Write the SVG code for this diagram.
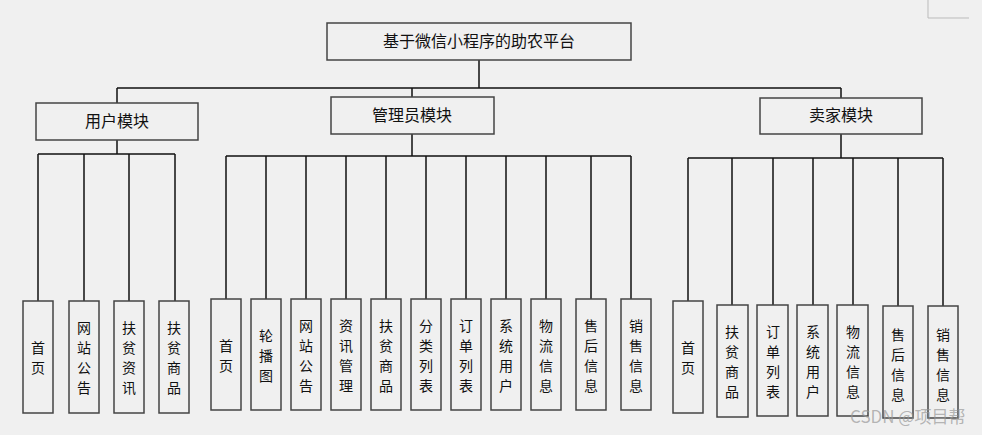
<svg xmlns="http://www.w3.org/2000/svg" width="982" height="435" viewBox="0 0 982 435">
<style>
.b{fill:#f0f0f0;stroke:#444;stroke-width:1.5}
.t{font-family:"Noto Sans CJK SC","Liberation Sans",sans-serif;font-size:14px;fill:#111;text-anchor:middle}
.h{font-size:16px}
.c{stroke:#111;stroke-width:1.5;fill:none}
</style>
<rect width="982" height="435" fill="#f0f0f0"/>
<path d="M928 0V18H969" stroke="#bbb" fill="none"/>
<g id="connectors" class="c">
<path d="M479 60V88M117 88H841M117 88V103M412 88V97M841 88V98"/>
<path d="M117 140V154M38 154H175M38 154V301M84 154V301M129 154V301M175 154V301"/>
<path d="M412 134V156M226 156H631M226 156V299M266 156V299M306 156V299M346 156V299M386 156V299M426 156V299M466 156V299M506 156V299M546 156V299M591 156V299M631 156V299"/>
<path d="M841 134V158M688 158H943M688 158V301M732 158V305M773 158V305M813 158V305M853 158V305M898 158V306M943 158V306"/>
</g>
<g id="root"><rect class="b" x="327" y="23" width="304" height="37"/><text class="t h" x="479" y="47">基于微信小程序的助农平台</text></g>
<g id="user"><rect class="b" x="36" y="103" width="162" height="37"/><text class="t h" x="117" y="127">用户模块</text></g>
<g id="admin"><rect class="b" x="331" y="97" width="163" height="37"/><text class="t h" x="412" y="121">管理员模块</text></g>
<g id="seller"><rect class="b" x="760" y="98" width="162" height="36"/><text class="t h" x="841" y="121">卖家模块</text></g>
<g id="u1"><rect class="b" x="23" y="301" width="30" height="112"/><text class="t" x="38" y="353"><tspan x="38">首</tspan><tspan x="38" dy="20">页</tspan></text></g>
<g id="u2"><rect class="b" x="69" y="301" width="30" height="112"/><text class="t" x="84" y="333"><tspan x="84">网</tspan><tspan x="84" dy="20">站</tspan><tspan x="84" dy="20">公</tspan><tspan x="84" dy="20">告</tspan></text></g>
<g id="u3"><rect class="b" x="114" y="301" width="30" height="112"/><text class="t" x="129" y="333"><tspan x="129">扶</tspan><tspan x="129" dy="20">贫</tspan><tspan x="129" dy="20">资</tspan><tspan x="129" dy="20">讯</tspan></text></g>
<g id="u4"><rect class="b" x="159" y="301" width="30" height="112"/><text class="t" x="174" y="333"><tspan x="174">扶</tspan><tspan x="174" dy="20">贫</tspan><tspan x="174" dy="20">商</tspan><tspan x="174" dy="20">品</tspan></text></g>
<g id="a1"><rect class="b" x="211" y="299" width="30" height="111"/><text class="t" x="226" y="351"><tspan x="226">首</tspan><tspan x="226" dy="20">页</tspan></text></g>
<g id="a2"><rect class="b" x="251" y="299" width="30" height="111"/><text class="t" x="266" y="341"><tspan x="266">轮</tspan><tspan x="266" dy="20">播</tspan><tspan x="266" dy="20">图</tspan></text></g>
<g id="a3"><rect class="b" x="291" y="299" width="30" height="111"/><text class="t" x="306" y="331"><tspan x="306">网</tspan><tspan x="306" dy="20">站</tspan><tspan x="306" dy="20">公</tspan><tspan x="306" dy="20">告</tspan></text></g>
<g id="a4"><rect class="b" x="331" y="299" width="30" height="111"/><text class="t" x="346" y="331"><tspan x="346">资</tspan><tspan x="346" dy="20">讯</tspan><tspan x="346" dy="20">管</tspan><tspan x="346" dy="20">理</tspan></text></g>
<g id="a5"><rect class="b" x="371" y="299" width="30" height="111"/><text class="t" x="386" y="331"><tspan x="386">扶</tspan><tspan x="386" dy="20">贫</tspan><tspan x="386" dy="20">商</tspan><tspan x="386" dy="20">品</tspan></text></g>
<g id="a6"><rect class="b" x="411" y="299" width="30" height="111"/><text class="t" x="426" y="331"><tspan x="426">分</tspan><tspan x="426" dy="20">类</tspan><tspan x="426" dy="20">列</tspan><tspan x="426" dy="20">表</tspan></text></g>
<g id="a7"><rect class="b" x="451" y="299" width="30" height="111"/><text class="t" x="466" y="331"><tspan x="466">订</tspan><tspan x="466" dy="20">单</tspan><tspan x="466" dy="20">列</tspan><tspan x="466" dy="20">表</tspan></text></g>
<g id="a8"><rect class="b" x="491" y="299" width="30" height="111"/><text class="t" x="506" y="331"><tspan x="506">系</tspan><tspan x="506" dy="20">统</tspan><tspan x="506" dy="20">用</tspan><tspan x="506" dy="20">户</tspan></text></g>
<g id="a9"><rect class="b" x="531" y="299" width="30" height="111"/><text class="t" x="546" y="331"><tspan x="546">物</tspan><tspan x="546" dy="20">流</tspan><tspan x="546" dy="20">信</tspan><tspan x="546" dy="20">息</tspan></text></g>
<g id="a10"><rect class="b" x="576" y="299" width="30" height="111"/><text class="t" x="591" y="331"><tspan x="591">售</tspan><tspan x="591" dy="20">后</tspan><tspan x="591" dy="20">信</tspan><tspan x="591" dy="20">息</tspan></text></g>
<g id="a11"><rect class="b" x="621" y="299" width="30" height="111"/><text class="t" x="636" y="331"><tspan x="636">销</tspan><tspan x="636" dy="20">售</tspan><tspan x="636" dy="20">信</tspan><tspan x="636" dy="20">息</tspan></text></g>
<g id="s1"><rect class="b" x="673" y="301" width="30" height="112"/><text class="t" x="688" y="353"><tspan x="688">首</tspan><tspan x="688" dy="20">页</tspan></text></g>
<g id="s2"><rect class="b" x="717" y="305" width="31" height="112"/><text class="t" x="732" y="337"><tspan x="732">扶</tspan><tspan x="732" dy="20">贫</tspan><tspan x="732" dy="20">商</tspan><tspan x="732" dy="20">品</tspan></text></g>
<g id="s3"><rect class="b" x="757" y="305" width="31" height="111"/><text class="t" x="773" y="337"><tspan x="773">订</tspan><tspan x="773" dy="20">单</tspan><tspan x="773" dy="20">列</tspan><tspan x="773" dy="20">表</tspan></text></g>
<g id="s4"><rect class="b" x="797" y="305" width="31" height="111"/><text class="t" x="813" y="337"><tspan x="813">系</tspan><tspan x="813" dy="20">统</tspan><tspan x="813" dy="20">用</tspan><tspan x="813" dy="20">户</tspan></text></g>
<g id="s5"><rect class="b" x="837" y="305" width="31" height="111"/><text class="t" x="853" y="337"><tspan x="853">物</tspan><tspan x="853" dy="20">流</tspan><tspan x="853" dy="20">信</tspan><tspan x="853" dy="20">息</tspan></text></g>
<g id="s6"><rect class="b" x="883" y="306" width="30" height="112"/><text class="t" x="898" y="340"><tspan x="898">售</tspan><tspan x="898" dy="20">后</tspan><tspan x="898" dy="20">信</tspan><tspan x="898" dy="20">息</tspan></text></g>
<g id="s7"><rect class="b" x="928" y="306" width="30" height="112"/><text class="t" x="943" y="340"><tspan x="943">销</tspan><tspan x="943" dy="20">售</tspan><tspan x="943" dy="20">信</tspan><tspan x="943" dy="20">息</tspan></text></g>
<text x="850" y="423" font-family="'Noto Sans CJK SC','Liberation Sans',sans-serif" font-size="17" fill="#999" fill-opacity="0.7">CSDN @项目帮</text>
</svg>
